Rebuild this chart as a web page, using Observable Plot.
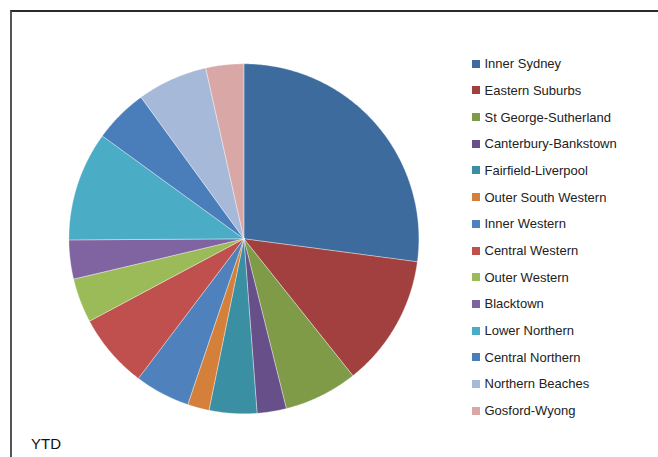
<!DOCTYPE html>
<html><head><meta charset="utf-8">
<script src="https://cdn.jsdelivr.net/npm/d3@7"></script>
<script src="https://cdn.jsdelivr.net/npm/@observablehq/plot@0.6"></script>
<style>
body{margin:0;background:#fff;font-family:"Liberation Sans",Arial,sans-serif;}
#wrap{position:relative;width:658px;height:457px;overflow:hidden;background:#fff;}
#frame{position:absolute;left:10px;top:10px;width:660px;height:460px;border-top:2px solid #2a2a2a;border-left:2px solid #555;}
#chart{position:absolute;left:0;top:0;}
#legend{position:absolute;left:472px;top:50.4px;font-size:13px;color:#222;}
.row{height:26.69px;display:flex;align-items:center;white-space:nowrap;}
.sw{width:8px;height:8px;margin-right:4.5px;flex:none;}
#ytd{position:absolute;left:31px;top:436.3px;font-size:15px;line-height:15px;color:#111;}
</style></head><body>
<div id="wrap"><div id="chart"></div><div id="frame"></div><div id="legend"></div><div id="ytd"></div></div>
<script>
const categories = ["Inner Sydney","Eastern Suburbs","St George-Sutherland","Canterbury-Bankstown","Fairfield-Liverpool","Outer South Western","Inner Western","Central Western","Outer Western","Blacktown","Lower Northern","Central Northern","Northern Beaches","Gosford-Wyong"];
const values = [27.1, 12.2, 6.8, 2.7, 4.4, 2.0, 5.1, 6.9, 4.1, 3.6, 10.1, 5.0, 6.5, 3.5];
const colors = ["#3E6B9E","#A1403E","#7F9B48","#67508A","#3A8FA3","#D4803A","#4F81BD","#C0504D","#9BBB59","#8064A2","#4BACC6","#4A7EBB","#A7B9D9","#D9A7A6"];
const caption = "YTD";

const arcs = d3.pie().sort(null).value(d => d)(values);
const pts = [];
arcs.forEach((p, i) => {
  const cat = categories[i];
  const n = Math.max(2, Math.ceil((p.endAngle - p.startAngle) / (Math.PI / 360)));
  pts.push({cat, x: 0, y: 0});
  for (let k = 0; k <= n; k++) {
    const a = p.startAngle + (p.endAngle - p.startAngle) * k / n;
    pts.push({cat, x: Math.sin(a), y: Math.cos(a)});
  }
  pts.push({cat, x: 0, y: 0});
});

const W = 658, H = 457, cx = 243.4, cy = 238.3, R = 175;
const plot = Plot.plot({
  width: W, height: H,
  marginLeft: cx - R, marginRight: W - (cx + R),
  marginTop: cy - R, marginBottom: H - (cy + R),
  x: {domain: [-1, 1], axis: null},
  y: {domain: [-1, 1], axis: null},
  color: {domain: categories, range: colors},
  style: {background: "transparent"},
  marks: [
    Plot.line(pts, {x: "x", y: "y", z: "cat", fill: "cat", stroke: "#ffffff", strokeWidth: 0.6, strokeOpacity: 0.6, curve: "linear"})
  ]
});
document.getElementById("chart").appendChild(plot);

const leg = document.getElementById("legend");
categories.forEach((c, i) => {
  const row = document.createElement("div");
  row.className = "row";
  const sw = document.createElement("span");
  sw.className = "sw";
  sw.style.background = colors[i];
  const t = document.createElement("span");
  t.textContent = c;
  row.appendChild(sw); row.appendChild(t);
  leg.appendChild(row);
});
document.getElementById("ytd").textContent = caption;
</script>
</body></html>
